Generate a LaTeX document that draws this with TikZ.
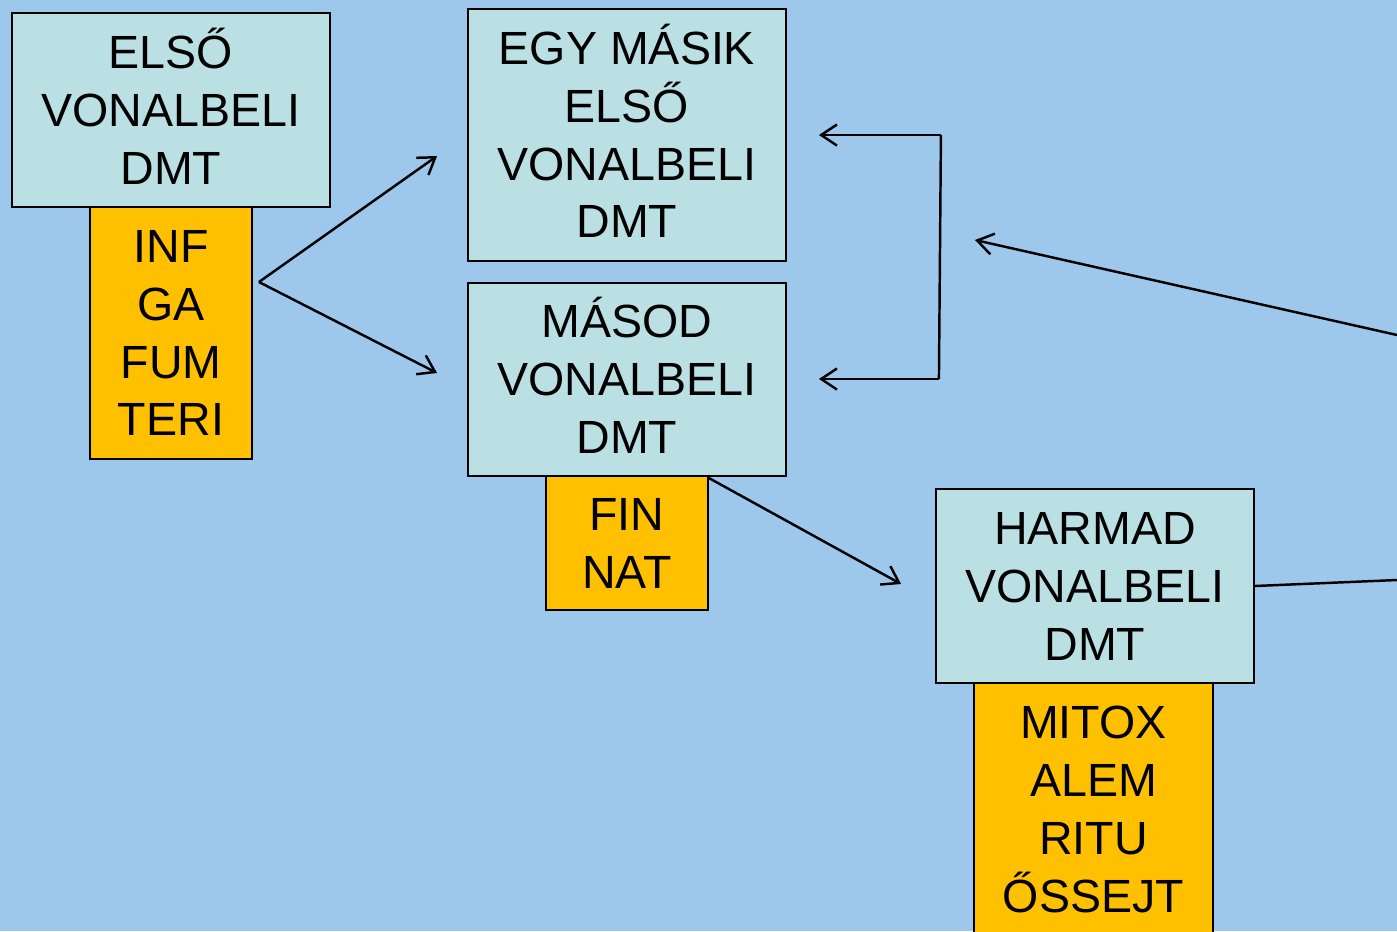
\documentclass[tikz,border=0pt]{standalone}
\usepackage{fontspec}
\setmainfont{Liberation Sans}
\usetikzlibrary{arrows.meta,calc}
\definecolor{bgblue}{RGB}{157,200,236}
\definecolor{boxcyan}{RGB}{187,224,227}
\definecolor{boxorange}{RGB}{255,192,0}
\newcommand\capln[1]{\vphantom{E}\smash{#1}}
\tikzset{
  dmt/.style={draw=black, line width=1.1pt, fill=boxcyan, align=center, inner sep=0pt,
    font=\fontsize{26.5}{33}\selectfont},
  drug/.style={draw=black, line width=1.1pt, fill=boxorange, align=center, inner sep=0pt,
    font=\fontsize{26.5}{33}\selectfont},
  conn/.style={line width=1.4pt, draw=black},
  arr/.style={conn, -{Straight Barb[length=9pt,width=12pt,line width=1.4pt]}}
}
\begin{document}
\begin{tikzpicture}[x=0.02cm,y=-0.02cm]
\useasboundingbox (0,0) rectangle (1397,931);
\clip (0,0) rectangle (1397,931);
\fill[bgblue] (0,0) rectangle (1397,931);
% orange boxes first so cyan borders lie on top
\node[drug, minimum width=3.24cm, minimum height=5.04cm] (oA) at (171,333) {INF\\GA\\FUM\\TERI};
\node[dmt, minimum width=6.36cm, minimum height=3.88cm] (A) at (171,110) {\capln{ELSŐ}\\VONALBELI\\DMT};
\node[dmt, minimum width=6.36cm, minimum height=5.04cm] (B) at (627,135) {\capln{EGY MÁSIK}\\ELSŐ\\VONALBELI\\DMT};
\node[drug, minimum width=3.24cm, minimum height=2.68cm] (oC) at (627,543) {FIN\\NAT};
\node[dmt, minimum width=6.36cm, minimum height=3.86cm] (C) at (627,379.5) {\capln{MÁSOD}\\VONALBELI\\DMT};
\node[drug, minimum width=4.78cm, minimum height=5.04cm] (oD) at (1093.5,809) {MITOX\\ALEM\\RITU\\ŐSSEJT};
\node[dmt, minimum width=6.36cm, minimum height=3.88cm] (D) at (1095,586) {HARMAD\\VONALBELI\\DMT};
% free ends
\coordinate (fork) at ($(oA.east)+(6,-51)$);
\coordinate (toB) at ($(B.west)+(-30,21)$);
\coordinate (toC) at ($(C.west)+(-30,-6.5)$);
\coordinate (brTop) at ($(B.east)+(154,0)$);
\coordinate (brBot) at ($(C.east)+(152,-0.5)$);
\coordinate (bTip) at ($(B.east)+(32,0)$);
\coordinate (cTip) at ($(C.east)+(32,-0.5)$);
\coordinate (farR) at (1397,335);
\coordinate (longTip) at (975,240);
\coordinate (farD) at (1397,580);
\coordinate (ocCorner) at ($(oC.north east)+(0,3)$);
\coordinate (toD) at ($(D.west)+(-34,-2)$);
% connectors
\draw[arr] (fork) -- (toB);
\draw[arr] (fork) -- (toC);
\draw[conn] (brTop) -- (brBot);
\draw[arr] (brTop) -- (bTip);
\draw[arr] (brBot) -- (cTip);
\draw[arr] (farR) -- (longTip);
\draw[conn] (D.east) -- (farD);
\draw[arr] (ocCorner) -- (toD);
\end{tikzpicture}
\end{document}
